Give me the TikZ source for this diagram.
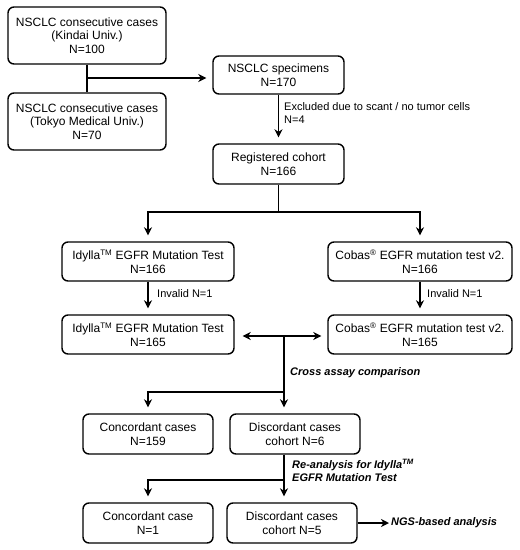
\documentclass[tikz,border=0pt]{standalone}
\usepackage{fontspec}
\setmainfont{Liberation Sans}
\usetikzlibrary{arrows.meta}
\begin{document}
\begin{tikzpicture}[x=1pt,y=-1pt,
  box/.style={draw, line width=1.4pt, rounded corners=6pt, align=center, inner sep=0pt,
    font=\fontsize{12}{13.5}\selectfont},
  conn/.style={line width=1.4pt},
  arr/.style={conn, -{Stealth[length=8pt,width=8pt,inset=2.5pt]}, shorten >=6pt},
  darr/.style={conn, {Stealth[length=8pt,width=8pt,inset=2.5pt]}-{Stealth[length=8pt,width=8pt,inset=2.5pt]}},
  lab/.style={anchor=west, align=left, inner sep=0pt, font=\fontsize{11}{12.5}\selectfont},
  blab/.style={anchor=west, align=left, inner sep=0pt, font=\fontsize{11}{13}\selectfont\bfseries\itshape}]
\useasboundingbox (0,0) rectangle (520,550);
% boxes
\node[box, minimum width=158pt, minimum height=57pt] (A) at (87,35.5) {NSCLC consecutive cases\\(Kindai Univ.)\\N=100};
\node[box, minimum width=158pt, minimum height=57pt] (B) at (87,121.5) {NSCLC consecutive cases\\(Tokyo Medical Univ.)\\N=70};
\node[box, minimum width=131pt, minimum height=38pt] (C) at (278.5,75) {NSCLC specimens\\N=170};
\node[box, minimum width=131pt, minimum height=40pt] (D) at (278.5,164) {Registered cohort\\N=166};
\node[box, minimum width=172pt, minimum height=39pt] (E) at (148,261.5) {Idylla\textsuperscript{TM} EGFR Mutation Test\\N=166};
\node[box, minimum width=184pt, minimum height=39pt] (F) at (420,261.5) {Cobas\textsuperscript{®} EGFR mutation test v2.\\N=166};
\node[box, minimum width=172pt, minimum height=39pt] (G) at (148,334.5) {Idylla\textsuperscript{TM} EGFR Mutation Test\\N=165};
\node[box, minimum width=184pt, minimum height=39pt] (H) at (420,334.5) {Cobas\textsuperscript{®} EGFR mutation test v2.\\N=165};
\node[box, minimum width=130pt, minimum height=40pt] (I) at (148,434) {Concordant cases\\N=159};
\node[box, minimum width=130pt, minimum height=40pt] (J) at (295,434) {Discordant cases\\cohort N=6};
\node[box, minimum width=130pt, minimum height=40pt] (K) at (148,523) {Concordant case\\N=1};
\node[box, minimum width=130pt, minimum height=40pt] (L) at (292,523) {Discordant cases\\cohort N=5};
% coordinates
\coordinate (ab) at (87,78);
\coordinate (dfork) at (278.5,212);
\coordinate (mid) at (284,336);
\coordinate (ij) at (284,392);
\coordinate (kl) at (284,480);
\coordinate (ngs) at (389,523);
% connectors
\draw[conn] (A.south) -- (B.north);
\draw[arr] (ab) -- (ab -| C.west);
\draw[arr] (C.south) -- (D.north);
\draw[conn] (D.south) -- (dfork);
\draw[arr] (dfork) -| (E.north);
\draw[arr] (dfork) -| (F.north);
\draw[arr] (E.south) -- (G.north);
\draw[arr] (F.south) -- (H.north);
\draw[darr, shorten <=8pt, shorten >=6pt] (G.east |- mid) -- (H.west |- mid);
\draw[arr] (mid) -- (mid |- J.north);
\draw[arr] (ij) -| (I.north);
\draw[arr] (J.south -| kl) -- (kl |- L.north);
\draw[arr] (kl) -| (K.north);
\draw[arr, shorten >=0pt] (L.east) -- (ngs);
% labels
\node[lab] (l1) at (284,113) {Excluded due to scant / no tumor cells\\N=4};
\node[lab] (l2) at (157,294) {Invalid N=1};
\node[lab] (l3) at (427,294) {Invalid N=1};
\node[blab] (l4) at (290,373) {Cross assay comparison};
\node[blab] (l5) at (292,470) {Re-analysis for Idylla\textsuperscript{TM}\\EGFR Mutation Test};
\node[blab] (l6) at (391,523) {NGS-based analysis};
\end{tikzpicture}
\end{document}
